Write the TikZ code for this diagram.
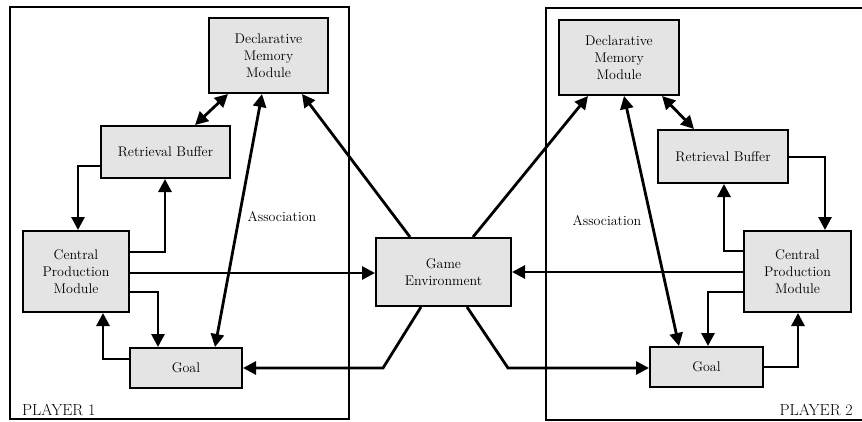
\documentclass[tikz,border=0pt]{standalone}
\usetikzlibrary{arrows.meta,positioning}
\definecolor{boxfill}{RGB}{228,228,228}
\tikzset{
  module/.style={draw=black, line width=2pt, fill=boxfill, align=center,
    inner sep=0pt, font=\fontsize{14}{17}\selectfont},
  link/.style={line width=2.8pt, -{Triangle[length=13pt,width=13pt]}},
  biglink/.style={line width=2.8pt, {Triangle[length=13pt,width=13pt]}-{Triangle[length=13pt,width=13pt]}},
  frame/.style={line width=2.5pt},
  lbl/.style={font=\fontsize{14}{16}\selectfont, inner sep=0pt},
  plbl/.style={font=\fontsize{16}{18}\selectfont, inner sep=0pt}
}
% a module box given by its corner coordinates (x1,y1) and (x2,y2), in pixels
\newcommand{\modbox}[6]{%
  \node[module, minimum width={#4-#2}, minimum height={#5-#3}]
    (#1) at ({(#2+#4)/2},{(#3+#5)/2}) {#6};}
\begin{document}
\begin{tikzpicture}[x=1pt,y=-1pt]
\useasboundingbox (0,0) rectangle (862,421);

% player frames
\draw[frame] (10,7) rectangle (349,419);
\draw[frame] (546,8) rectangle (866,420);
\node[plbl, anchor=base west] (p1) at (22,415) {PLAYER 1};
\node[plbl, anchor=base east] (p2) at (853,415) {PLAYER 2};

% shared environment
\modbox{ge}{376}{238}{511}{306}{Game\\Environment}

% player 1 modules
\modbox{dm1}{209}{18}{328}{93}{Declarative\\Memory\\Module}
\modbox{rb1}{101}{126}{230}{178}{Retrieval Buffer}
\modbox{cp1}{23}{231}{129}{312}{Central\\Production\\Module}
\modbox{go1}{130}{348}{242}{388}{Goal}

% player 2 modules
\modbox{dm2}{559}{20}{679}{95}{Declarative\\Memory\\Module}
\modbox{rb2}{658}{130}{788}{183}{Retrieval Buffer}
\modbox{cp2}{744}{231}{851}{312}{Central\\Production\\Module}
\modbox{go2}{650}{347}{763}{387}{Goal}

% player 1 connectors
\draw[biglink] (dm1.south west -| 228,0) -- (rb1.north west -| 195,0);
\draw[link] (rb1.west |- 0,166) -| (cp1.north -| 78,0);
\draw[link] (cp1.east |- 0,252) -| (rb1.south -| 165,0);
\draw[link] (cp1.east |- 0,273) -- (ge.west |- 0,273);
\draw[link] (cp1.east |- 0,292) -| (go1.north -| 158,0);
\draw[link] (go1.west |- 0,359) -| (cp1.south -| 103,0);
\draw[biglink] (dm1.south -| 262,0) -- (go1.north -| 215,0);
\node[lbl] (as1) at (282,217) {Association};
\draw[link] (ge.north -| 410,0) -- (dm1.south -| 302,0);
\coordinate (k1) at (383,368);
\draw[link] (ge.south -| 421,0) -- (k1) -- (go1.east |- k1);

% player 2 connectors
\draw[link] (ge.north -| 473,0) -- (dm2.south -| 588,0);
\draw[biglink] (dm2.south -| 624,0) -- (go2.north -| 679,0);
\node[lbl] (as2) at (607,221) {Association};
\draw[biglink] (dm2.south -| 662,0) -- (rb2.north -| 694,0);
\draw[link] (rb2.east |- 0,157) -| (cp2.north -| 825,0);
\draw[link] (cp2.west |- 0,251) -| (rb2.south -| 724,0);
\draw[link] (cp2.west |- 0,272) -- (ge.east |- 0,272);
\draw[link] (cp2.west |- 0,292) -| (go2.north -| 708,0);
\draw[link] (go2.east |- 0,367) -| (cp2.south -| 798,0);
\coordinate (k2) at (508,368);
\draw[link] (ge.south -| 467,0) -- (k2) -- (go2.west |- k2);
\end{tikzpicture}
\end{document}
